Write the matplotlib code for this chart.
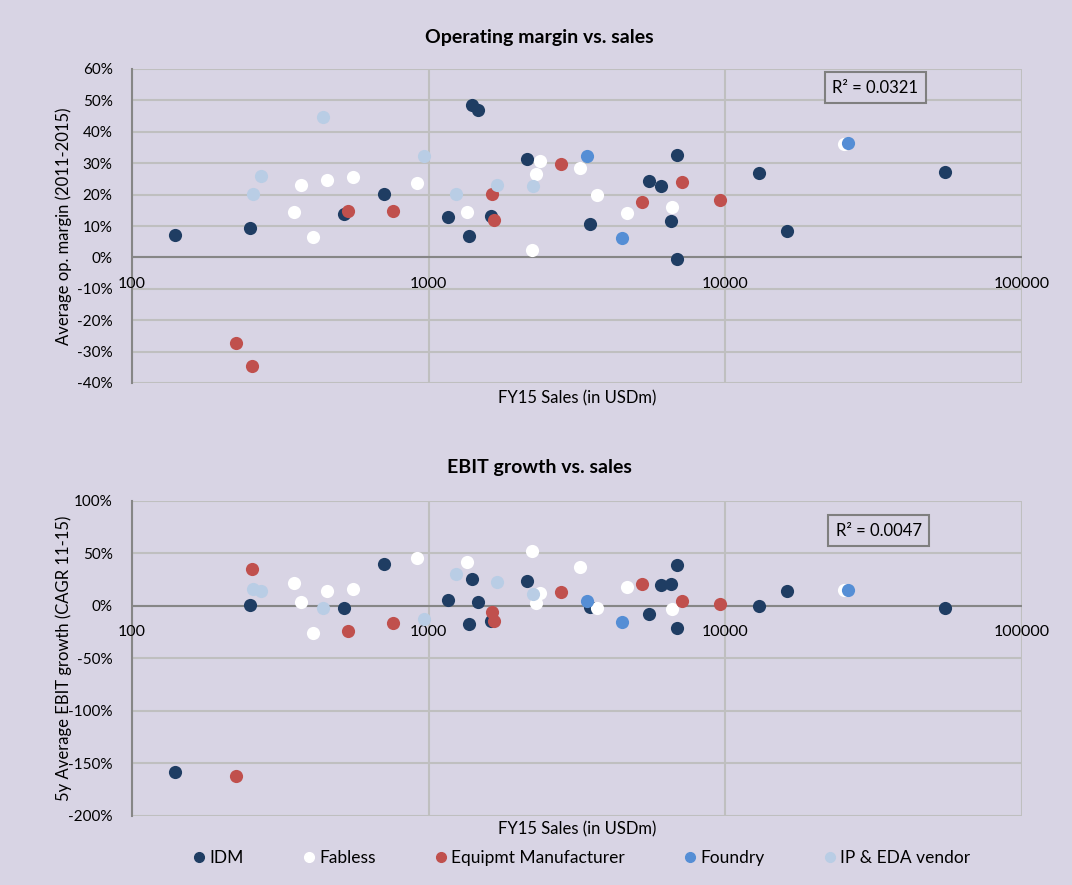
import matplotlib
matplotlib.use("Agg")
import matplotlib.pyplot as plt
from matplotlib.lines import Line2D

plt.rcParams['font.family'] = ['Lato', 'DejaVu Sans']

# sales (USDm), op. margin (%), EBIT growth (%) per company group
idm_sales = [140, 249, 520, 706, 1397, 1469, 1164, 1366, 1616, 2149, 3486, 5543, 6085, 6868, 6577, 6868, 12940, 16130, 55200]
idm_margin = [7.1, 9.4, 13.9, 20.2, 48.5, 46.8, 12.9, 6.7, 13.2, 31.2, 10.7, 24.2, 22.7, 32.7, 11.7, -0.6, 26.8, 8.4, 27.2]
idm_growth = [-158, 0.7, -2.2, 40, 25.1, 3.8, 5.7, -17.7, -14.3, 23.5, -1.6, -7.6, 19.7, 38.5, 21, -20.9, -0.3, 14, -2.5]

fab_sales = [912, 370, 453, 555, 351, 409, 1348, 2370, 2292, 2228, 3243, 3690, 4659, 6607, 25100]
fab_margin = [23.7, 23.1, 24.6, 25.5, 14.6, 6.4, 14.4, 30.6, 26.5, 2.2, 28.5, 19.8, 14.0, 16.0, 36.2]
fab_growth = [45.4, 3.2, 14, 16.2, 21.9, -25.7, 41.3, 12.4, 2.9, 51.8, 36.6, -2.5, 18.1, -3.4, 15]

eq_sales = [533, 759, 1633, 1666, 2799, 5234, 7124, 9616, 224, 253]
eq_margin = [14.8, 14.8, 20.3, 11.8, 29.8, 17.6, 24.0, 18.2, -27.2, -34.6]
eq_growth = [-24.1, -16.5, -5.7, -14.6, 13.3, 20.7, 4.8, 1.9, -162, 34.6]

fdy_sales = [3415, 4479, 25900]
fdy_margin = [32.4, 6.2, 36.4]
fdy_growth = [4.8, -15.5, 15]

ip_sales = [440, 962, 272, 256, 1238, 1693, 2239]
ip_margin = [44.8, 32.3, 26.0, 20.3, 20.3, 23.2, 22.6]
ip_growth = [-2.5, -13, 14.3, 16.2, 30.5, 22.6, 11.1]

labels = ['IDM', 'Fabless', 'Equipmt Manufacturer', 'Foundry', 'IP & EDA vendor']
colors = ['#1F3D63', '#FFFFFF', '#C0504D', '#558ED5', '#B9CDE5']
sales = [idm_sales, fab_sales, eq_sales, fdy_sales, ip_sales]
margins = [idm_margin, fab_margin, eq_margin, fdy_margin, ip_margin]
growths = [idm_growth, fab_growth, eq_growth, fdy_growth, ip_growth]

bg = '#D8D4E4'
W, H = 1072, 885
fig = plt.figure(figsize=(W / 100, H / 100), dpi=100, facecolor=bg)

ax1 = fig.add_axes([132 / W, 1 - 383 / H, 890 / W, 314 / H])
ax2 = fig.add_axes([132 / W, 1 - 815.7 / H, 890 / W, 315 / H])


def style(ax, ylo, yhi, ystep, r2, r2pos, ylabel):
    ax.set_facecolor(bg)
    ax.set_xscale('log')
    ax.set_xlim(100, 100000)
    ax.set_ylim(ylo, yhi)
    ax.set_yticks(range(ylo, yhi + 1, ystep))
    ax.set_yticklabels(['%d%%' % v for v in range(ylo, yhi + 1, ystep)], fontsize=11)
    ax.set_xticks([100, 1000, 10000, 100000])
    ax.set_xticklabels([])
    ax.minorticks_off()
    ax.tick_params(length=0, pad=14)
    ax.grid(True, color='#BFBFBF', lw=1.5)
    ax.set_axisbelow(True)
    for s in ['top', 'right', 'bottom']:
        ax.spines[s].set_visible(False)
    ax.spines['left'].set_color('#868686')
    ax.spines['left'].set_linewidth(1.5)
    ax.axhline(0, color='#868686', lw=1.5, zorder=1)
    for v in [100, 1000, 10000, 100000]:
        ax.annotate(str(v), xy=(v, 0), xytext=(0, -19), textcoords='offset points',
                    ha='center', va='center', fontsize=11.5, annotation_clip=False)
    ax.set_ylabel(ylabel, fontsize=12)
    ax.yaxis.set_label_coords(-0.0674, 0.5)
    ax.text(r2pos[0], r2pos[1], 'R² = ' + r2, transform=ax.transAxes, ha='center', va='center',
            fontsize=12, bbox=dict(boxstyle='square,pad=0.45', fc=bg, ec='#7F7F7F', lw=1.5))


style(ax1, -40, 60, 10, '0.0321', (0.835, 0.941), 'Average op. margin (2011-2015)')
style(ax2, -200, 100, 50, '0.0047', (0.839, 0.904), '5y Average EBIT growth (CAGR 11-15)')

for x, y1, y2, c in zip(sales, margins, growths, colors):
    ax1.scatter(x, y1, s=90, color=c, lw=0, zorder=3)
    ax2.scatter(x, y2, s=90, color=c, lw=0, zorder=3)

fig.text(0.503, 1 - 37 / H, 'Operating margin vs. sales', ha='center', va='center',
         fontsize=14, fontweight='bold')
fig.text(0.503, 1 - 468 / H, 'EBIT growth vs. sales', ha='center', va='center',
         fontsize=14, fontweight='bold')
fig.text(577 / W, 1 - 398 / H, 'FY15 Sales (in USDm)', ha='center', va='center', fontsize=12)
fig.text(577 / W, 1 - 829 / H, 'FY15 Sales (in USDm)', ha='center', va='center', fontsize=12)

handles = [Line2D([], [], ls='none', marker='o', ms=7, mfc=c, mec=c) for c in colors]
fig.legend(handles, labels, loc='center', bbox_to_anchor=(0.543, 1 - 858 / H), ncol=5,
           frameon=False, fontsize=12.5, handlelength=0.6, handletextpad=0.3,
           columnspacing=3.45)

fig.savefig('out.png', dpi=100, facecolor=bg)
